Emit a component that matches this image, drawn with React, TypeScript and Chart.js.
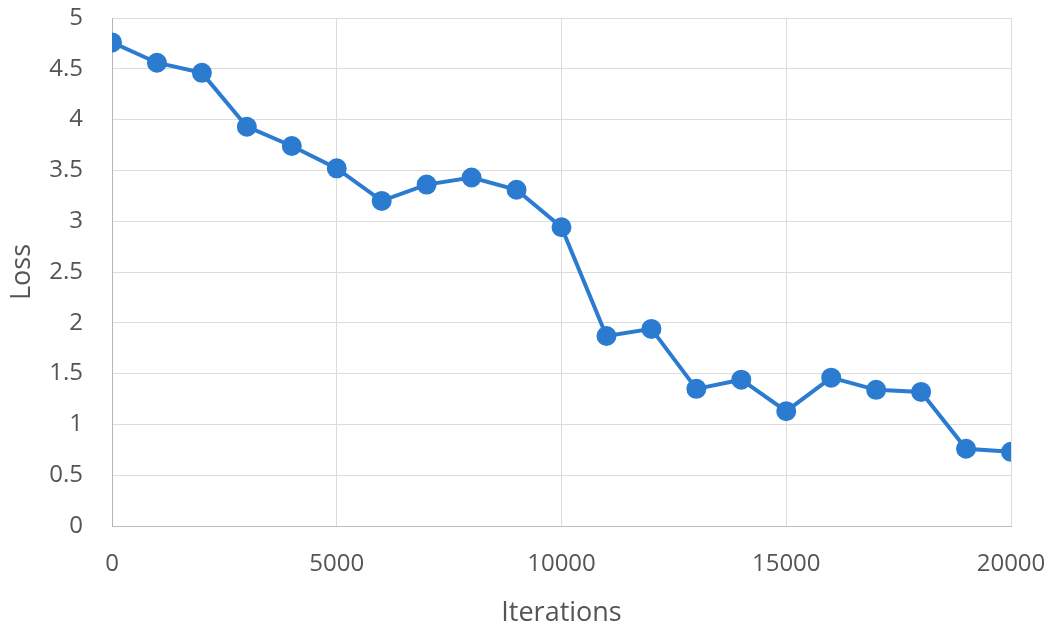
import React, { useEffect, useRef } from "react";
import { Chart, registerables } from "chart.js";

Chart.register(...registerables);

const iterations = [0, 1000, 2000, 3000, 4000, 5000, 6000, 7000, 8000, 9000, 10000, 11000, 12000, 13000, 14000, 15000, 16000, 17000, 18000, 19000, 20000];
const loss = [4.76, 4.56, 4.46, 3.93, 3.74, 3.52, 3.2, 3.36, 3.43, 3.31, 2.94, 1.87, 1.94, 1.35, 1.44, 1.13, 1.46, 1.34, 1.32, 0.76, 0.73];

const xTitle = "Iterations";
const yTitle = "Loss";

export default function App() {
  const ref = useRef<HTMLCanvasElement | null>(null);
  useEffect(() => {
    if (!ref.current) return;
    const font = "'Open Sans', 'DejaVu Sans', sans-serif";
    const chart = new Chart(ref.current, {
      type: "line",
      data: {
        datasets: [
          {
            data: iterations.map((x, i) => ({ x, y: loss[i] })),
            borderColor: "#2b7bd0",
            backgroundColor: "#2b7bd0",
            borderWidth: 4,
            pointRadius: 8,
            pointHoverRadius: 8,
            tension: 0,
          },
        ],
      },
      options: {
        animation: false,
        responsive: false,
        maintainAspectRatio: false,
        layout: { padding: 0 },
        plugins: { legend: { display: false }, tooltip: { enabled: false } },
        scales: {
          x: {
            type: "linear",
            min: 0,
            max: 20000,
            afterFit: (s: any) => { s.height = 104; s.paddingLeft = 0; s.paddingRight = 45; },
            ticks: { stepSize: 5000, padding: 24, color: "#555", font: { family: font, size: 24 }, callback: (v: any) => String(v) },
            grid: { color: "#dcdcdc", drawTicks: false, lineWidth: 1 },
            border: { color: "#bdbdbd", width: 1 },
            title: { display: true, text: xTitle, color: "#555", font: { family: font, size: 27, lineHeight: 1.1 }, padding: { top: 0, bottom: 2 } },
          },
          y: {
            min: 0,
            max: 5,
            afterFit: (s: any) => { s.width = 112; s.paddingTop = 18; s.paddingBottom = 0; },
            ticks: { stepSize: 0.5, padding: 29, color: "#555", font: { family: font, size: 24 }, callback: (v: any) => String(v) },
            grid: { color: "#dcdcdc", drawTicks: false, lineWidth: 1 },
            border: { color: "#b5b5b5", width: 1 },
            title: { display: true, text: yTitle, color: "#555", font: { family: font, size: 27 }, padding: { top: 6, bottom: 0 } },
          },
        },
      },
    });
    return () => chart.destroy();
  }, []);
  return (
    <div style={{ position: "absolute", left: 0, top: 0, width: 1056, height: 630, background: "#fff" }}>
      <canvas ref={ref} width={1056} height={630} style={{ display: "block" }} />
    </div>
  );
}
